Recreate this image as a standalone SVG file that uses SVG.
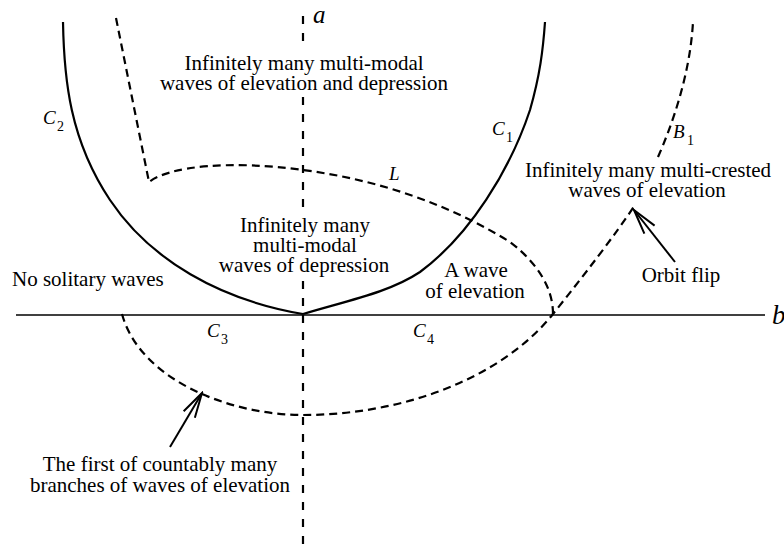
<svg xmlns="http://www.w3.org/2000/svg" width="784" height="544" viewBox="0 0 784 544">
<style>
.t{font-family:"Liberation Serif","Times New Roman",serif;font-size:21px;fill:#000;text-anchor:middle}
.tl{font-family:"Liberation Serif","Times New Roman",serif;font-size:21px;fill:#000}
.it{font-family:"Liberation Serif","Times New Roman",serif;font-style:italic;fill:#000}
.sub{font-family:"Liberation Serif","Times New Roman",serif;font-size:14px;fill:#000}
.solid{fill:none;stroke:#000;stroke-width:2.2}
.dash{fill:none;stroke:#000;stroke-width:2.2;stroke-dasharray:8,5}
.axdash{fill:none;stroke:#000;stroke-width:2.2;stroke-dasharray:8,9}
.arr{fill:none;stroke:#000;stroke-width:2;marker-end:url(#ah)}
</style>
<defs>
<marker id="ah" viewBox="-28 -9 30 18" refX="0" refY="0" markerWidth="30" markerHeight="18" markerUnits="userSpaceOnUse" orient="auto">
<path d="M-25,-6.5 L0,0 L-25,6.5" fill="none" stroke="#000" stroke-width="2"/>
</marker>
</defs>
<rect width="784" height="544" fill="#fff"/>
<g id="axes">
<path d="M16,315 H765" fill="none" stroke="#000" stroke-width="1.6"/>
<path class="axdash" d="M303,16 V44 M303,97 V213 M303,281 V544"/>
<text class="it" x="313" y="23" font-size="25">a</text>
<text class="it" x="772" y="324" font-size="27">b</text>
</g>
<g id="connectors">
<path id="C2" class="solid" d="M63,22 C64,80 70,140 110,200 C150,260 220,300 303,314"/>
<path id="C1" class="solid" d="M303,314 C350,300 390,292 420,272 C470,235 510,170 530,110 C540,75 543,50 545,22"/>
<path id="L" class="dash" d="M116,18 L149,182 C170,166 230,160 303,170 C380,180 450,205 510,242 C540,265 553,290 553,314"/>
<path id="B1" class="dash" d="M122,314 C140,380 230,415 303,415 C400,415 500,380 553,314 C585,274 615,235 635,205"/>
<path id="B1top" class="dash" d="M658,157 C672,125 690,75 693,22"/>
<path class="arr" d="M675,262 L634,210"/>
<path class="arr" d="M170,447 L202,393"/>
</g>
<g id="labels-curves">
<text class="it" x="43" y="124" font-size="19">C</text><text class="sub" x="57" y="131">2</text>
<text class="it" x="492" y="135" font-size="19">C</text><text class="sub" x="506" y="142">1</text>
<text class="it" x="673" y="138" font-size="19">B</text><text class="sub" x="687" y="145">1</text>
<text class="it" x="207" y="337" font-size="19">C</text><text class="sub" x="221" y="344">3</text>
<text class="it" x="413" y="337" font-size="19">C</text><text class="sub" x="427" y="344">4</text>
<text class="it" x="389" y="180" font-size="19">L</text>
</g>
<g id="region-top">
<text class="t" x="304" y="70">Infinitely many multi-modal</text>
<text class="t" x="304" y="90">waves of elevation and depression</text>
</g>
<g id="region-center">
<text class="t" x="305" y="232">Infinitely many</text>
<text class="t" x="305" y="252">multi-modal</text>
<text class="t" x="304" y="272">waves of depression</text>
</g>
<g id="region-left">
<text class="tl" x="12" y="286">No solitary waves</text>
</g>
<g id="region-wave">
<text class="t" x="476" y="277">A wave</text>
<text class="t" x="475" y="298">of elevation</text>
</g>
<g id="region-right">
<text class="t" x="648" y="177">Infinitely many multi-crested</text>
<text class="t" x="647" y="197">waves of elevation</text>
</g>
<g id="orbit-flip">
<text class="t" x="681" y="282">Orbit flip</text>
</g>
<g id="first-branch">
<text class="t" x="160" y="471">The first of countably many</text>
<text class="t" x="160" y="492">branches of waves of elevation</text>
</g>
</svg>
